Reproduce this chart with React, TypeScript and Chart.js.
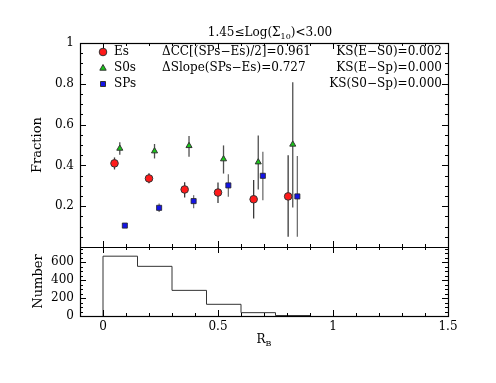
import React, { useEffect, useRef } from 'react';
import { Chart, registerables } from 'chart.js';

Chart.register(...registerables);

// ---------- data ----------
const X_TICKS = [0, 0.5, 1, 1.5];
const FRAC_TICKS = [0.2, 0.4, 0.6, 0.8, 1];
const NUM_TICKS = [0, 200, 400, 600];

const ES_X = [0.05, 0.2, 0.355, 0.5, 0.655, 0.805];
const ES_Y = [0.41, 0.336, 0.282, 0.267, 0.234, 0.248];
const ES_LO = [0.38, 0.312, 0.243, 0.216, 0.14, 0.05];
const ES_HI = [0.439, 0.361, 0.318, 0.316, 0.328, 0.45];

const S0_X = [0.073, 0.224, 0.374, 0.524, 0.675, 0.825];
const S0_Y = [0.483, 0.47, 0.496, 0.431, 0.416, 0.503];
const S0_LO = [0.452, 0.434, 0.442, 0.36, 0.282, 0.194];
const S0_HI = [0.514, 0.505, 0.544, 0.498, 0.547, 0.807];

const SP_X = [0.095, 0.244, 0.394, 0.545, 0.695, 0.845];
const SP_Y = [0.105, 0.192, 0.225, 0.302, 0.349, 0.248];
const SP_LO = [0.097, 0.172, 0.19, 0.246, 0.229, 0.05];
const SP_HI = [0.113, 0.213, 0.254, 0.357, 0.467, 0.446];

const HIST_EDGES = [0, 0.15, 0.3, 0.45, 0.6, 0.75, 0.9];
const HIST_COUNTS = [665, 552, 285, 130, 37, 5];

const LEGEND_LABELS = ['Es', 'S0s', 'SPs'];
const STATS_MID = ['ΔCC[(SPs−Es)/2]=0.961', 'ΔSlope(SPs−Es)=0.727'];
const STATS_RIGHT = ['KS(E−S0)=0.002', 'KS(E−Sp)=0.000', 'KS(S0−Sp)=0.000'];

// ---------- styles ----------
const FONT = '"DejaVu Serif", serif';
const RED = '#ff1a1a';
const GREEN = '#19c819';
const BLUE = '#1414e6';

const zip = (xs: number[], ys: number[]) => xs.map((x, i) => ({ x, y: ys[i] }));

const histData = () => {
  const pts: { x: number; y: number }[] = [{ x: HIST_EDGES[0], y: 0 }];
  HIST_COUNTS.forEach((c, i) => pts.push({ x: HIST_EDGES[i], y: c }));
  const last = HIST_EDGES[HIST_EDGES.length - 1];
  pts.push({ x: last, y: HIST_COUNTS[HIST_COUNTS.length - 1] });
  pts.push({ x: last, y: 0 });
  return pts;
};

const ERR = [
  { x: ES_X, lo: ES_LO, hi: ES_HI, color: '#3a3a3a' },
  { x: S0_X, lo: S0_LO, hi: S0_HI, color: '#505050' },
  { x: SP_X, lo: SP_LO, hi: SP_HI, color: '#707070' },
];

function drawMarker(ctx: CanvasRenderingContext2D, kind: string, x: number, y: number) {
  ctx.save();
  ctx.lineWidth = 1;
  ctx.strokeStyle = '#333';
  ctx.beginPath();
  if (kind === 'circle') {
    ctx.fillStyle = RED;
    ctx.arc(x, y, 3.8, 0, Math.PI * 2);
  } else if (kind === 'triangle') {
    ctx.fillStyle = GREEN;
    ctx.moveTo(x, y - 3.5);
    ctx.lineTo(x + 3.2, y + 2.2);
    ctx.lineTo(x - 3.2, y + 2.2);
    ctx.closePath();
  } else {
    ctx.fillStyle = BLUE;
    ctx.rect(x - 2.5, y - 2.5, 5, 5);
  }
  ctx.fill();
  ctx.stroke();
  ctx.restore();
}

function drawSub(ctx: CanvasRenderingContext2D, parts: [string, boolean][], x: number, y: number, size: number, align: 'left' | 'center') {
  const big = `${size}px ${FONT}`;
  const small = `${Math.round(size * 0.7)}px ${FONT}`;
  let total = 0;
  parts.forEach(([t, sub]) => {
    ctx.font = sub ? small : big;
    total += ctx.measureText(t).width;
  });
  let cx = align === 'center' ? x - total / 2 : x;
  ctx.textAlign = 'left';
  ctx.textBaseline = 'alphabetic';
  parts.forEach(([t, sub]) => {
    ctx.font = sub ? small : big;
    ctx.fillText(t, cx, sub ? y + 3 : y);
    cx += ctx.measureText(t).width;
  });
}

const errorBars = {
  id: 'errorBars',
  beforeDatasetsDraw(chart: any) {
    const { ctx } = chart;
    const xs = chart.scales.x;
    const ys = chart.scales.y;
    ctx.save();
    ctx.lineWidth = 1.3;
    ERR.forEach((s) => {
      ctx.strokeStyle = s.color;
      s.x.forEach((xv, i) => {
        const px = xs.getPixelForValue(xv);
        ctx.beginPath();
        ctx.moveTo(px, ys.getPixelForValue(s.lo[i]));
        ctx.lineTo(px, ys.getPixelForValue(s.hi[i]));
        ctx.stroke();
      });
    });
    ctx.restore();
  },
};

const frame = {
  id: 'frame',
  afterDraw(chart: any) {
    const { ctx } = chart;
    const { x, y, y2 } = chart.scales;
    const L = chart.chartArea.left;
    const R = chart.chartArea.right;
    const T = y.top;
    const M = y.bottom;
    const B = y2.bottom;
    ctx.save();
    ctx.strokeStyle = '#000';
    ctx.lineWidth = 1;
    ctx.beginPath();
    // x ticks
    for (let i = -1; i <= 15; i++) {
      const v = i / 10;
      const major = i % 5 === 0;
      const len = major ? 6 : 3;
      const px = Math.round(x.getPixelForValue(v)) + 0.5;
      ctx.moveTo(px, T); ctx.lineTo(px, T + len);
      ctx.moveTo(px, M - len); ctx.lineTo(px, M + len);
      ctx.moveTo(px, B - len); ctx.lineTo(px, B);
    }
    // top panel y ticks
    for (let i = 1; i < 20; i++) {
      const v = i / 20;
      const major = i % 4 === 0;
      const len = major ? 6 : 3;
      const py = Math.round(y.getPixelForValue(v)) + 0.5;
      ctx.moveTo(L, py); ctx.lineTo(L + len, py);
      ctx.moveTo(R, py); ctx.lineTo(R - len, py);
    }
    // bottom panel y ticks
    for (let i = 1; i * 50 < y2.max; i++) {
      const v = i * 50;
      const major = v % 200 === 0;
      const len = major ? 6 : 3;
      const py = Math.round(y2.getPixelForValue(v)) + 0.5;
      ctx.moveTo(L, py); ctx.lineTo(L + len, py);
      ctx.moveTo(R, py); ctx.lineTo(R - len, py);
    }
    ctx.stroke();
    ctx.lineWidth = 1.2;
    ctx.strokeRect(L + 0.5, T + 0.5, R - L, B - T);
    ctx.beginPath();
    ctx.moveTo(L, M + 0.5);
    ctx.lineTo(R, M + 0.5);
    ctx.stroke();

    // texts
    ctx.fillStyle = '#000';
    drawSub(ctx, [['1.45≤Log(Σ', false], ['10', true], [')<3.00', false]], (L + R) / 2 + 6, 36, 12, 'center');

    const kinds = ['circle', 'triangle', 'rect'];
    LEGEND_LABELS.forEach((t, i) => {
      const yy = T + 9 + i * 16;
      drawMarker(ctx, kinds[i], L + 23, yy);
      ctx.font = `12px ${FONT}`;
      ctx.textAlign = 'left';
      ctx.textBaseline = 'middle';
      ctx.fillText(t, L + 34, yy);
    });
    STATS_MID.forEach((t, i) => {
      ctx.font = `12px ${FONT}`;
      ctx.textAlign = 'left';
      ctx.textBaseline = 'middle';
      ctx.fillText(t, L + 82, T + 9 + i * 16);
    });
    STATS_RIGHT.forEach((t, i) => {
      ctx.font = `12px ${FONT}`;
      ctx.textAlign = 'right';
      ctx.textBaseline = 'middle';
      ctx.fillText(t, R - 6, T + 9 + i * 16);
    });

    // axis titles
    ctx.font = `13px ${FONT}`;
    ctx.textAlign = 'center';
    ctx.textBaseline = 'middle';
    ctx.save();
    ctx.translate(38, (T + M) / 2);
    ctx.rotate(-Math.PI / 2);
    ctx.fillText('Fraction', 0, 0);
    ctx.restore();
    ctx.save();
    ctx.translate(39, (M + B) / 2);
    ctx.rotate(-Math.PI / 2);
    ctx.fillText('Number', 0, 0);
    ctx.restore();
    drawSub(ctx, [['R', false], ['B', true]], (L + R) / 2, 343, 12, 'center');
    ctx.restore();
  },
};

export default function App() {
  const ref = useRef<HTMLCanvasElement>(null);
  useEffect(() => {
    if (!ref.current) return;
    const tickFont = { family: FONT, size: 12 };
    const noGrid = { display: false, drawTicks: false, tickLength: 0 };
    const chart = new Chart(ref.current, {
      type: 'scatter',
      data: {
        datasets: [
          {
            type: 'line',
            label: 'hist',
            data: histData(),
            yAxisID: 'y2',
            stepped: true,
            borderColor: '#333',
            borderWidth: 1,
            pointRadius: 0,
            fill: false,
          } as any,
          {
            label: 'Es',
            data: zip(ES_X, ES_Y),
            yAxisID: 'y',
            pointStyle: 'circle',
            pointRadius: 3.8,
            backgroundColor: RED,
            borderColor: '#333',
            borderWidth: 1,
          },
          {
            label: 'S0s',
            data: zip(S0_X, S0_Y),
            yAxisID: 'y',
            pointStyle: 'triangle',
            pointRadius: 3.5,
            backgroundColor: GREEN,
            borderColor: '#333',
            borderWidth: 1,
          },
          {
            label: 'SPs',
            data: zip(SP_X, SP_Y),
            yAxisID: 'y',
            pointStyle: 'rect',
            pointRadius: 3.6,
            backgroundColor: BLUE,
            borderColor: '#222',
            borderWidth: 0.8,
          },
        ],
      },
      options: {
        responsive: false,
        animation: false,
        events: [],
        layout: { padding: { top: 43, right: 48, left: 0, bottom: 0 } },
        plugins: { legend: { display: false }, tooltip: { enabled: false } },
        scales: {
          x: {
            type: 'linear',
            min: -0.1,
            max: 1.5,
            grid: noGrid,
            border: { display: false },
            afterBuildTicks: (s: any) => { s.ticks = X_TICKS.map((v) => ({ value: v })); },
            afterFit: (s: any) => { s.height = 67; },
            ticks: { font: tickFont, color: '#000', padding: 4, maxRotation: 0, autoSkip: false, callback: (v: any) => String(v) },
          },
          y: {
            type: 'linear',
            position: 'left',
            stack: 'panels',
            stackWeight: 204,
            weight: 2,
            min: 0,
            max: 1,
            grid: noGrid,
            border: { display: false },
            afterBuildTicks: (s: any) => { s.ticks = FRAC_TICKS.map((v) => ({ value: v })); },
            afterFit: (s: any) => { s.width = 80; },
            ticks: { font: tickFont, color: '#000', padding: 6, autoSkip: false, callback: (v: any) => String(v) },
          },
          y2: {
            type: 'linear',
            position: 'left',
            stack: 'panels',
            stackWeight: 69,
            weight: 1,
            min: 0,
            max: 767,
            grid: noGrid,
            border: { display: false },
            afterBuildTicks: (s: any) => { s.ticks = NUM_TICKS.map((v) => ({ value: v })); },
            afterFit: (s: any) => { s.width = 80; },
            ticks: { font: tickFont, color: '#000', padding: 6, autoSkip: false, callback: (v: any) => String(v) },
          },
        },
      } as any,
      plugins: [errorBars, frame],
    });
    return () => chart.destroy();
  }, []);
  return (
    <div style={{ position: 'absolute', left: 0, top: 0, width: 496, height: 383, background: '#fff' }}>
      <canvas ref={ref} width={496} height={383} />
    </div>
  );
}
